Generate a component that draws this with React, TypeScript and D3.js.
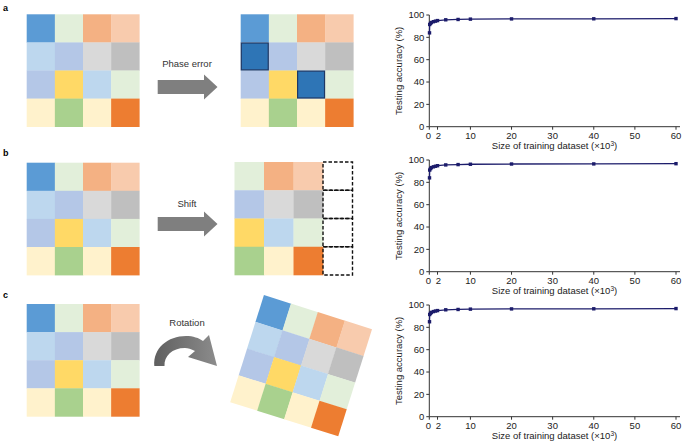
import React, { useEffect, useRef } from 'react';
import * as d3 from 'd3';

// training set size (x10^3) and testing accuracy (%) for each panel
const sizes = [0.05, 0.1, 0.3, 0.5, 1, 1.5, 2, 4, 7, 10, 20, 40, 60];
const accuracyPhase = [84, 91.5, 92.5, 93.3, 94, 94.5, 95, 95.7, 96, 96.3, 96.5, 96.6, 96.8];
const accuracyShift = [84, 91, 92.3, 93.2, 93.9, 94.4, 94.9, 95.6, 95.9, 96.2, 96.4, 96.5, 96.7];
const accuracyRotation = [85, 91.5, 92.6, 93.4, 94.1, 94.6, 95, 95.7, 96, 96.3, 96.5, 96.6, 96.8];

const xTicks = [0, 2, 10, 20, 30, 40, 50, 60];
const yTicks = [0, 20, 40, 60, 80, 100];

// 4x4 pixel pattern
const baseGrid = [
  ['#5B9BD5', '#E2EFDA', '#F4B183', '#F8CBAD'],
  ['#BDD7EE', '#B4C7E7', '#D9D9D9', '#BFBFBF'],
  ['#B4C7E7', '#FFD966', '#BDD7EE', '#E2EFDA'],
  ['#FFF2CC', '#A9D18E', '#FFF2CC', '#ED7D31'],
];
// cells hit by the phase error
const phaseErrorCells = [[1, 0], [2, 2]];
const panelLabels = ['a', 'b', 'c'];
const operations = ['Phase error', 'Shift', 'Rotation'];

const App = () => {
  const ref = useRef(null);

  useEffect(() => {
    const svg = d3.select(ref.current);
    svg.selectAll('*').remove();
    const font = 'Liberation Sans, Arial, sans-serif';

    const drawGrid = (g, x0, y0, w, h, grid, extra) => {
      const xs = d3.scaleBand().domain(d3.range(4)).range([x0, x0 + w]);
      const ys = d3.scaleBand().domain(d3.range(4)).range([y0, y0 + h]);
      grid.forEach((row, r) => row.forEach((c, ci) => {
        if (!c) return;
        g.append('rect').attr('x', xs(ci)).attr('y', ys(r))
          .attr('width', xs.bandwidth() + 0.3).attr('height', ys.bandwidth() + 0.3)
          .attr('fill', c);
      }));
      if (extra) extra(xs, ys);
    };

    const panelTops = [14.3, 162.7, 304];

    panelTops.forEach((top, i) => {
      const g = svg.append('g');
      g.append('text').attr('x', 3).attr('y', [11, 156, 298][i])
        .attr('font-family', font).attr('font-weight', 'bold').attr('font-size', 9)
        .text(panelLabels[i]);

      // original pattern
      drawGrid(g, 26.7, top, 112.6, 112.4, baseGrid);

      // operation label
      g.append('text').attr('x', 187).attr('y', [67, 207, 326][i])
        .attr('text-anchor', 'middle').attr('font-family', font).attr('font-size', 9.5)
        .attr('fill', '#333').text(operations[i]);
    });

    // straight arrows for a and b
    [87, 224].forEach(cy => {
      svg.append('path')
        .attr('d', `M157.7,${cy - 7} L204,${cy - 7} L204,${cy - 12.5} L217.5,${cy} L204,${cy + 12.5} L204,${cy + 7} L157.7,${cy + 7} Z`)
        .attr('fill', '#7F7F7F');
    });

    // a: phase error pattern
    drawGrid(svg.append('g'), 240.7, 14.3, 112.6, 112.4, baseGrid, (xs, ys) => {
      phaseErrorCells.forEach(([r, c]) => {
        svg.append('rect').attr('x', xs(c) + 0.6).attr('y', ys(r) + 0.6)
          .attr('width', xs.bandwidth() - 1.2).attr('height', ys.bandwidth() - 1.2)
          .attr('fill', '#2E75B6').attr('stroke', '#1F3864').attr('stroke-width', 1.2);
      });
    });

    // b: shifted pattern with empty column
    const shifted = baseGrid.map(row => [...row.slice(1), null]);
    drawGrid(svg.append('g'), 234.5, 162, 118, 113, shifted, (xs, ys) => {
      d3.range(4).forEach(r => {
        svg.append('rect').attr('x', xs(3)).attr('y', ys(r))
          .attr('width', xs.bandwidth()).attr('height', ys.bandwidth())
          .attr('fill', 'none').attr('stroke', '#111').attr('stroke-width', 1.4)
          .attr('stroke-dasharray', '3.5,2');
      });
    });

    // c: curved arrow
    const grad = svg.append('defs').append('linearGradient').attr('id', 'arcGrad')
      .attr('x1', '0%').attr('x2', '100%');
    grad.append('stop').attr('offset', '0%').attr('stop-color', '#5f5f5f');
    grad.append('stop').attr('offset', '100%').attr('stop-color', '#8c8c8c');
    svg.append('path')
      .attr('d', 'M154.3,366 C153,348 168,336 186,336 C193,336 199,338 203,341 L209,335 L217,366 L188,357 L195,351 C191,349 188,348 185,348 C172,348 164,356 164.5,366 Z')
      .attr('fill', 'url(#arcGrad)');

    // c: rotated pattern
    const rot = svg.append('g').attr('transform', 'rotate(17.5,301,365.5)');
    drawGrid(rot, 301 - 56.5, 365.5 - 56, 113, 112, baseGrid);

    // accuracy charts
    const x = d3.scaleLinear().domain([0, 60]).range([429.3, 676]);
    const series = [accuracyPhase, accuracyShift, accuracyRotation];
    series.forEach((acc, i) => {
      const off = i * 145;
      const y = d3.scaleLinear().domain([0, 100]).range([126.7 + off, 15 + off]);
      const g = svg.append('g');
      const axisColor = '#333';

      g.append('line').attr('x1', x(0)).attr('x2', x(0)).attr('y1', y(0)).attr('y2', y(100))
        .attr('stroke', axisColor).attr('stroke-width', 1);
      g.append('line').attr('x1', x(0)).attr('x2', 680).attr('y1', y(0)).attr('y2', y(0))
        .attr('stroke', axisColor).attr('stroke-width', 1);

      yTicks.forEach(t => {
        g.append('line').attr('x1', x(0) - 3).attr('x2', x(0)).attr('y1', y(t)).attr('y2', y(t))
          .attr('stroke', axisColor);
        g.append('text').attr('x', x(0) - 5).attr('y', y(t)).attr('dy', '0.35em')
          .attr('text-anchor', 'end').attr('font-family', font).attr('font-size', 9.5)
          .attr('fill', '#222').text(t);
      });
      xTicks.forEach(t => {
        g.append('line').attr('x1', x(t)).attr('x2', x(t)).attr('y1', y(0)).attr('y2', y(0) + 3)
          .attr('stroke', axisColor);
        g.append('text').attr('x', x(t) + (t === 0 ? -1 : t === 2 ? 1 : 0)).attr('y', y(0) + 12)
          .attr('text-anchor', 'middle').attr('font-family', font).attr('font-size', 9.5)
          .attr('fill', '#222').text(t);
      });

      const title = g.append('text').attr('x', 554.5).attr('y', y(0) + 22.5)
        .attr('text-anchor', 'middle').attr('font-family', font).attr('font-size', 9.5)
        .attr('fill', '#222');
      title.append('tspan').text('Size of training dataset (×10');
      title.append('tspan').attr('dy', -3.5).attr('font-size', 6.5).text('3');
      title.append('tspan').attr('dy', 3.5).text(')');

      g.append('text').attr('transform', `translate(402,${y(50)}) rotate(-90)`)
        .attr('text-anchor', 'middle').attr('font-family', font).attr('font-size', 9.5)
        .attr('fill', '#222').text('Testing accuracy (%)');

      const pts = sizes.map((s, k) => [s, acc[k]]);
      g.append('path').datum(pts)
        .attr('fill', 'none').attr('stroke', '#1c1c6b').attr('stroke-width', 1.3)
        .attr('d', d3.line().x(d => x(d[0])).y(d => y(d[1])));
      g.selectAll('rect.pt').data(pts).enter().append('rect').attr('class', 'pt')
        .attr('x', d => x(d[0]) - 1.7).attr('y', d => y(d[1]) - 1.7)
        .attr('width', 3.4).attr('height', 3.4).attr('fill', '#1c1c6b');
    });
  }, []);

  return (
    <svg ref={ref} width={685} height={441}
      style={{ position: 'absolute', left: 0, top: 0, background: '#fff' }} />
  );
};

export default App;
